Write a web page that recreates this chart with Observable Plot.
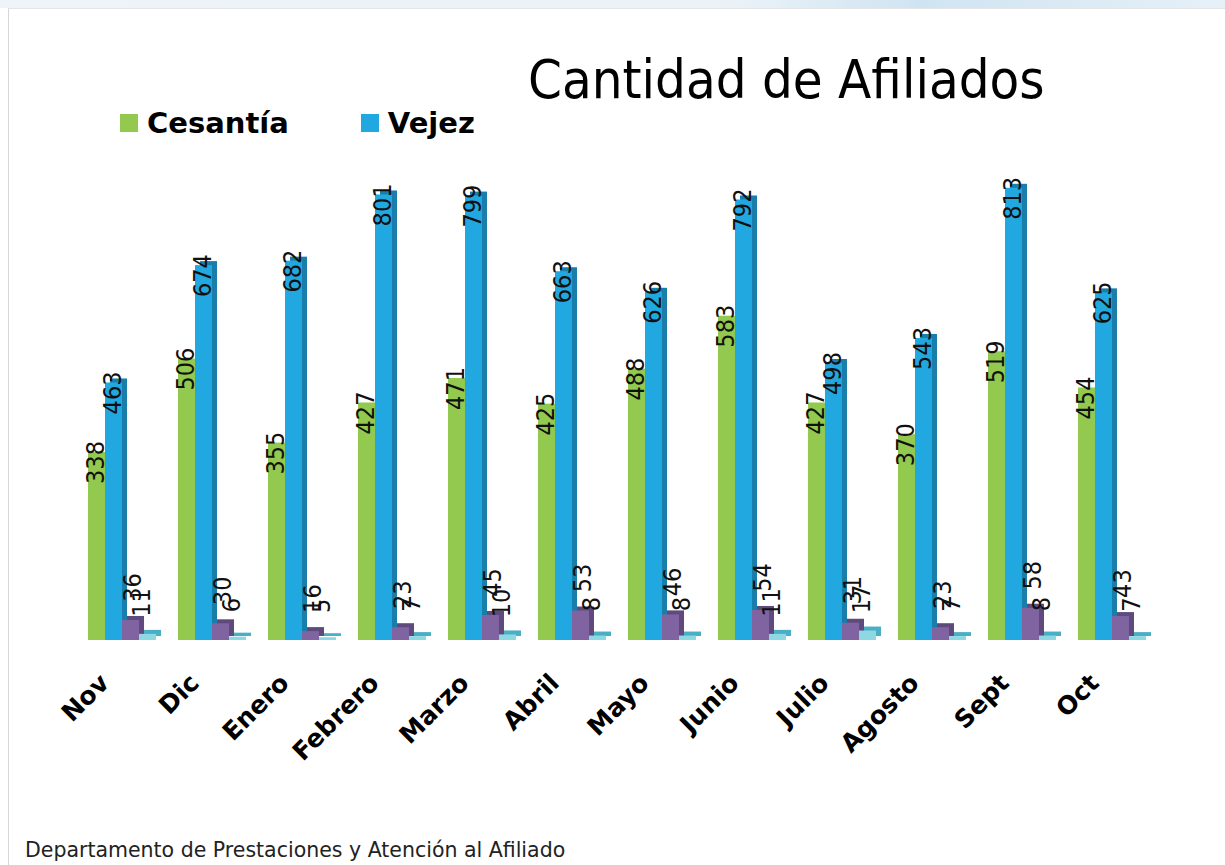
<!DOCTYPE html>
<html>
<head>
<meta charset="utf-8">
<script src="https://cdn.jsdelivr.net/npm/d3@7"></script>
<script src="https://cdn.jsdelivr.net/npm/@observablehq/plot@0.6"></script>
<style>
  html, body { margin: 0; padding: 0; background: #fff; }
  body { width: 1225px; height: 865px; position: relative; overflow: hidden; }
  #topstrip { position: absolute; left: 0; top: 0; width: 1225px; height: 8px;
    background: linear-gradient(to right, #eef4f9 0%, #eaf2f8 60%, #cfe4f2 75%, #e6f0f8 100%); }
  #frame { position: absolute; left: 8px; top: 8px; width: 1217px; height: 857px;
    border-left: 1.5px solid #d6d6d6; border-top: 1px solid #e4e4e4; box-sizing: border-box; }
  #header { position: relative; height: 160px; }
  #title { position: absolute; left: 528px; top: 48px; font-family: "DejaVu Sans Condensed", "DejaVu Sans", sans-serif;
    font-size: 54px; color: #000; white-space: nowrap; }
  #legend { position: absolute; left: 120px; top: 106px; font-family: "DejaVu Sans", sans-serif;
    font-weight: bold; font-size: 29px; display: flex; align-items: center; white-space: nowrap; }
  .sw { display: inline-block; width: 18px; height: 18px; margin-right: 9px; }
  .item { display: inline-flex; align-items: center; }
  #chart { position: absolute; left: 0; top: 160px; }
  #footer { position: absolute; left: 25px; top: 838px; font-family: "DejaVu Sans", sans-serif;
    font-size: 20.5px; color: #222; white-space: nowrap; }
</style>
</head>
<body>
<div id="topstrip"></div>
<div id="frame"></div>
<div id="header">
  <div id="title">Cantidad de Afiliados</div>
  <div id="legend"></div>
</div>
<div id="chart"></div>
<div id="footer">Departamento de Prestaciones y Atención al Afiliado</div>
<script>
// ---- data ----
const months = ["Nov","Dic","Enero","Febrero","Marzo","Abril","Mayo","Junio","Julio","Agosto","Sept","Oct"];
const seriesNames = ["Cesantía","Vejez","Serie 3","Serie 4"];
const cesantia = [338,506,355,427,471,425,488,583,427,370,519,454];
const vejez    = [463,674,682,801,799,663,626,792,498,543,813,625];
const serie3   = [36,30,16,23,45,53,46,54,31,23,58,43];
const serie4   = [11,6,5,7,10,8,8,11,17,7,8,7];
const legendNames = ["Cesantía","Vejez"];

const frontColors = ["#92C94E","#22A8E0","#8064A2","#8ED8E4"];
const sideColors  = ["#7AAE3C","#1A7EAA","#5F4A7E","#4AAFC4"];

const valuesBySeries = [cesantia, vejez, serie3, serie4];
const rows = [];
months.forEach((m, i) => {
  seriesNames.forEach((s, j) => rows.push({month: m, series: s, value: valuesBySeries[j][i]}));
});

// legend
const leg = document.getElementById("legend");
const legendGaps = [0, 72];
legendNames.forEach((n, idx) => {
  const k = seriesNames.indexOf(n);
  const it = document.createElement("span"); it.className = "item";
  it.style.marginLeft = legendGaps[idx] + "px";
  const sw = document.createElement("span"); sw.className = "sw"; sw.style.background = frontColors[k];
  it.appendChild(sw); it.appendChild(document.createTextNode(n));
  leg.appendChild(it);
});

const colorDomain = [...seriesNames, ...seriesNames.map(s => s + "-s")];
const colorRange = [...frontColors, ...sideColors];

const big = rows.filter(d => d.series === "Cesantía" || d.series === "Vejez");
const s3 = rows.filter(d => d.series === "Serie 3");
const s4 = rows.filter(d => d.series === "Serie 4");
const withSide = rows.filter(d => d.series !== "Cesantía");

const chart = Plot.plot({
  width: 1225,
  height: 640,
  marginLeft: 88,
  marginRight: 79,
  marginTop: 10,
  marginBottom: 160,
  style: {background: "transparent", fontFamily: "'DejaVu Sans Condensed','DejaVu Sans',sans-serif"},
  fx: {domain: months, paddingInner: 0.244, paddingOuter: 0, round: false, axis: null, label: null},
  x: {domain: seriesNames, padding: 0, round: false, axis: null},
  y: {domain: [0, 845], axis: null},
  color: {domain: colorDomain, range: colorRange},
  marks: [
    // side faces (3D effect)
    Plot.barY(withSide, {fx: "month", x: "series", y: "value", fill: d => d.series + "-s", dx: 5, dy: -4}),
    // front faces
    Plot.barY(rows, {fx: "month", x: "series", y: "value", fill: "series"}),
    // value labels
    Plot.text(big, {fx: "month", x: "series", y: "value", text: d => String(d.value),
      rotate: -90, textAnchor: "middle", dy: 10, dx: -1, fontSize: 25, fill: "#111"}),
    Plot.text(s3, {fx: "month", x: "series", y: "value", text: d => String(d.value),
      rotate: -90, textAnchor: "middle", dy: -33, dx: 2, fontSize: 25, fill: "#111"}),
    Plot.text(s4, {fx: "month", x: "series", y: "value", text: d => String(d.value),
      rotate: -90, textAnchor: "middle", dy: -32, dx: -6, fontSize: 25, fill: "#111"}),
    // month labels
    Plot.text(months, {fx: d => d, text: d => d, frameAnchor: "bottom", rotate: -45, textAnchor: "end",
      dx: -12, dy: 44, fontSize: 25, fontWeight: "bold", fill: "#000",
      fontFamily: "'DejaVu Sans',sans-serif"})
  ]
});
document.getElementById("chart").appendChild(chart);
</script>
</body>
</html>
